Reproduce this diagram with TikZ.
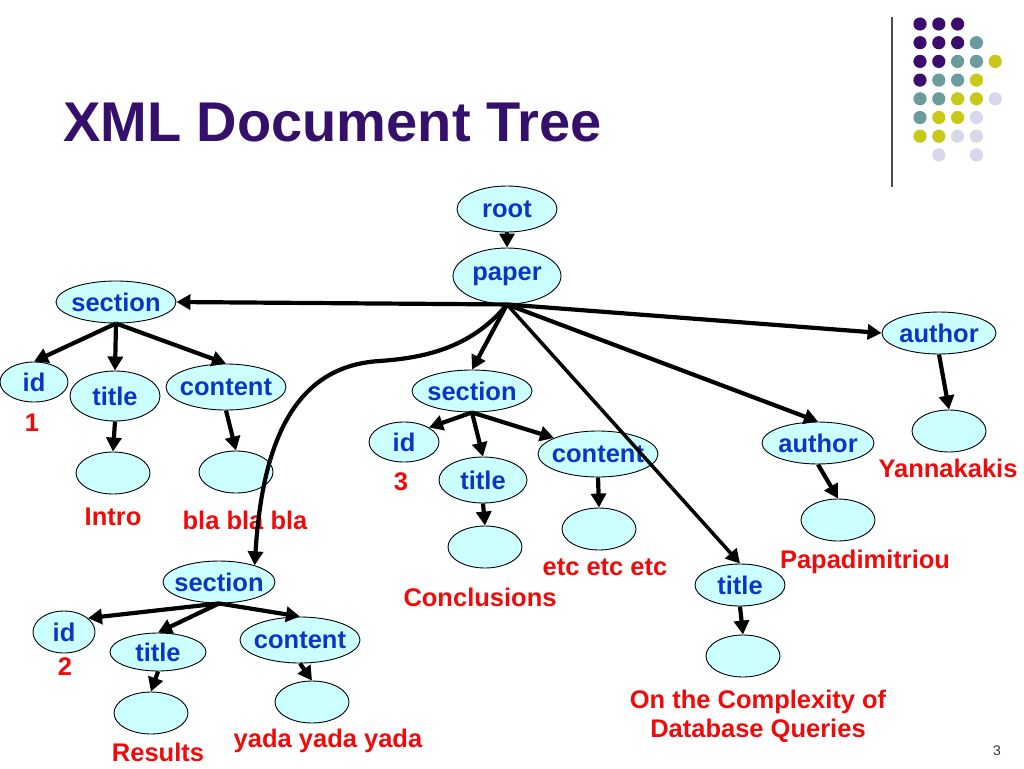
\documentclass[tikz,border=0pt]{standalone}
\usepackage{fontspec}
\setmainfont{Liberation Sans}
\usetikzlibrary{shapes.geometric,arrows.meta}
\definecolor{titlepurple}{HTML}{35106B}
\definecolor{nodeblue}{HTML}{0A36C8}
\definecolor{lblred}{HTML}{F00A0A}
\definecolor{elfill}{HTML}{CCFFFF}
\definecolor{dpurple}{HTML}{3C0B6E}
\definecolor{dteal}{HTML}{6A9C9C}
\definecolor{dyellow}{HTML}{C8C818}
\definecolor{dlav}{HTML}{D8D8EA}
\newcommand\zw[1]{\makebox[0pt]{#1}}
\tikzset{
  el/.style={ellipse, draw=black, line width=0.9pt, fill=elfill, inner sep=0pt,
    text=nodeblue, font=\fontsize{25.5}{30}\selectfont\bfseries},
  red/.style={text=lblred, font=\fontsize{25.5}{29}\selectfont\bfseries, inner sep=0pt, align=center},
  arr/.style={line width=4.2pt, -{Triangle[length=14pt,width=15pt]}},
  dot/.style={radius=6.6pt}
}
\begin{document}
\begin{tikzpicture}[x=1pt,y=-1pt]
\useasboundingbox (0,0) rectangle (1024,768);
\fill[white] (0,0) rectangle (1024,768);
% decoration
\draw[line width=1.4pt, color=black!70] (892,17) -- (892,187);
\foreach \c/\r/\col in {0/0/dpurple,1/0/dpurple,2/0/dpurple,
  0/1/dpurple,1/1/dpurple,2/1/dpurple,3/1/dteal,
  0/2/dpurple,1/2/dpurple,2/2/dteal,3/2/dteal,4/2/dyellow,
  0/3/dpurple,1/3/dteal,2/3/dteal,3/3/dyellow,
  0/4/dteal,1/4/dteal,2/4/dyellow,3/4/dyellow,4/4/dlav,
  0/5/dteal,1/5/dyellow,2/5/dyellow,3/5/dlav,
  0/6/dyellow,1/6/dyellow,2/6/dlav,3/6/dlav,
  1/7/dlav,3/7/dlav}
  \fill[\col] ({920+18.8*\c},{24+18.7*\r}) circle[dot];
\node[anchor=base west, text=titlepurple, inner sep=0pt, font=\fontsize{56}{60}\selectfont\bfseries] (ttl) at (63,141) {XML Document Tree};
% nodes
\node[el, minimum width=100pt, minimum height=46pt] (root) at (507,209) {\zw{root}};
\node[el, minimum width=108pt, minimum height=56pt] (paper) at (507,276) {\zw{paper}};
\node[el, minimum width=120pt, minimum height=42pt] (sec1) at (116,302) {\zw{section}};
\node[el, minimum width=68pt, minimum height=40pt] (id1) at (34,382) {\zw{id}};
\node[el, minimum width=90pt, minimum height=50pt] (title1) at (115,396) {\zw{title}};
\node[el, minimum width=120pt, minimum height=46pt] (content1) at (226,387) {\zw{content}};
\node[el, minimum width=74pt, minimum height=42pt] (leafA) at (113,473) {};
\node[el, minimum width=74pt, minimum height=42pt] (leafB) at (236,472) {};
\node[el, minimum width=120pt, minimum height=42pt] (sec2) at (472,391) {\zw{section}};
\node[el, minimum width=70pt, minimum height=40pt] (id3) at (404,442) {\zw{id}};
\node[el, minimum width=88pt, minimum height=46pt] (title3) at (483,480) {\zw{title}};
\node[el, minimum width=120pt, minimum height=46pt] (content3) at (598,454) {\zw{content}};
\node[el, minimum width=74pt, minimum height=42pt] (leafC) at (485,547) {};
\node[el, minimum width=74pt, minimum height=42pt] (leafD) at (599,529) {};
\node[el, minimum width=112pt, minimum height=42pt] (author1) at (818,443) {\zw{author}};
\node[el, minimum width=74pt, minimum height=42pt] (leafE) at (838,520) {};
\node[el, minimum width=90pt, minimum height=42pt] (title4) at (740,585) {\zw{title}};
\node[el, minimum width=74pt, minimum height=42pt] (leafF) at (743,656) {};
\node[el, minimum width=114pt, minimum height=42pt] (author2) at (939,333) {\zw{author}};
\node[el, minimum width=74pt, minimum height=42pt] (leafG) at (949,431) {};
\node[el, minimum width=112pt, minimum height=42pt] (sec3) at (219,582) {\zw{section}};
\node[el, minimum width=62pt, minimum height=42pt] (id2) at (64,632) {\zw{id}};
\node[el, minimum width=96pt, minimum height=38pt] (title2) at (158,652) {\zw{title}};
\node[el, minimum width=120pt, minimum height=46pt] (content2) at (300,640) {\zw{content}};
\node[el, minimum width=74pt, minimum height=42pt] (leafH) at (151,713) {};
\node[el, minimum width=74pt, minimum height=42pt] (leafI) at (312,702) {};
% labels
\node[red] (l1) at (32,423) {1};
\node[red] (lIntro) at (113,517) {Intro};
\node[red] (lbla) at (245,520) {bla bla bla};
\node[red] (l3) at (401,482) {3};
\node[red] (lConc) at (480,597) {Conclusions};
\node[red] (letc) at (605,567) {etc etc etc};
\node[red] (lPapa) at (865,562) {Papadimitriou};
\node[red] (lYann) at (948,468) {Yannakakis};
\node[red] (lOn) at (758,716) {On the Complexity of\\Database Queries};
\node[red] (l2) at (65,667) {2};
\node[red] (lRes) at (158,752) {Results};
\node[red] (lyada) at (328,741) {yada yada yada};
\node[font=\fontsize{14}{16}\selectfont, text=black!80, inner sep=0pt] (pg) at (997,751) {3};
% edges
\draw[arr] (root.south) -- (paper.north);
\draw[arr] (paper.south) -- (sec1.east);
\draw[arr] (paper.south) -- (author2.west);
\draw[arr] (paper.south) -- (sec2.north);
\draw[arr] (paper.south) -- (author1.north);
\draw[arr, line width=3.5pt] (paper.south) -- (title4.north);
\draw[arr] (paper.south) .. controls (470,350) and (420,358) .. (380,361) .. controls (290,366) and (262,450) .. (sec3.25);
\draw[arr] (sec1.south) -- (id1.north);
\draw[arr] (sec1.south) -- (title1.north);
\draw[arr] (sec1.south) -- (content1.north);
\draw[arr] (title1.south) -- (leafA.north);
\draw[arr] (content1.south) -- (leafB.north);
\draw[arr] (sec2.south) -- (id3.30);
\draw[arr] (sec2.south) -- (title3.north);
\draw[arr] (sec2.south) -- (content3.160);
\draw[arr] (title3.south) -- (leafC.north);
\draw[arr] (content3.south) -- (leafD.north);
\draw[arr] (author1.south) -- (leafE.north);
\draw[arr] (author2.south) -- (leafG.north);
\draw[arr] (title4.south) -- (leafF.north);
\draw[arr] (sec3.south) -- (id2.30);
\draw[arr] (sec3.south) -- (title2.north);
\draw[arr] (sec3.south) -- (content2.north);
\draw[arr] (title2.south) -- (leafH.north);
\draw[arr] (content2.south) -- (leafI.north);
\end{tikzpicture}
\end{document}
